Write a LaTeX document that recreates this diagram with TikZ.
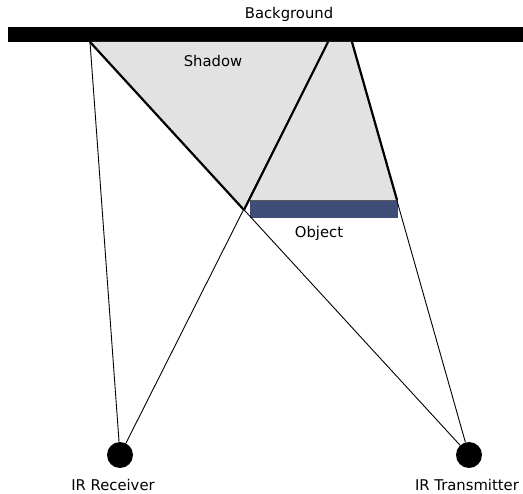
\documentclass[tikz,border=0pt]{standalone}
\usepackage{fontspec}
\setmainfont{DejaVu Sans}
\definecolor{objblue}{HTML}{3F4E78}
\definecolor{shadowgray}{HTML}{E2E2E2}
\begin{document}
\begin{tikzpicture}[x=1pt,y=-1pt,
  lbl/.style={font=\fontsize{14.8}{17}\selectfont, inner sep=0pt},
  ray/.style={line width=0.9pt},
  edge/.style={line width=2.2pt},
  sensor/.style={circle, fill=black, minimum size=26pt, inner sep=0pt}]
\useasboundingbox (0,0) rectangle (523,494);
% background bar
\fill[black] (8,27) rectangle (523,42);
\node[lbl] (bglabel) at (289,14) {Background};
% key points
\coordinate (A) at (90,42);
\coordinate (B) at (328,42);
\coordinate (C) at (352,42);
\coordinate (D) at (397,200);
\coordinate (E) at (250,200);
\coordinate (X) at (244,210);
% shadow
\fill[shadowgray] (A) -- (C) -- (D) -- (E) -- (X) -- cycle;
\node[lbl] (shadowlabel) at (213,61) {Shadow};
% object
\fill[objblue] (250,200) rectangle (398,218);
\draw[gray!70!black, line width=0.8pt] (250,200.5) -- (398,200.5);
\node[lbl] (objlabel) at (319,233) {Object};
% sensors
\node[sensor] (rx) at (120,455) {};
\node[sensor] (tx) at (469,455) {};
\node[lbl] (rxlabel) at (113,485) {IR Receiver};
\node[lbl] (txlabel) at (467,485) {IR Transmitter};
% rays
\draw[ray] (rx) -- (A);
\draw[ray] (A) -- (tx);
\draw[ray] (rx) -- (B);
\draw[ray] (tx) -- (C);
\draw[edge] (A) -- (X);
\draw[edge] (X) -- (B);
\draw[edge] (D) -- (C);
\end{tikzpicture}
\end{document}
